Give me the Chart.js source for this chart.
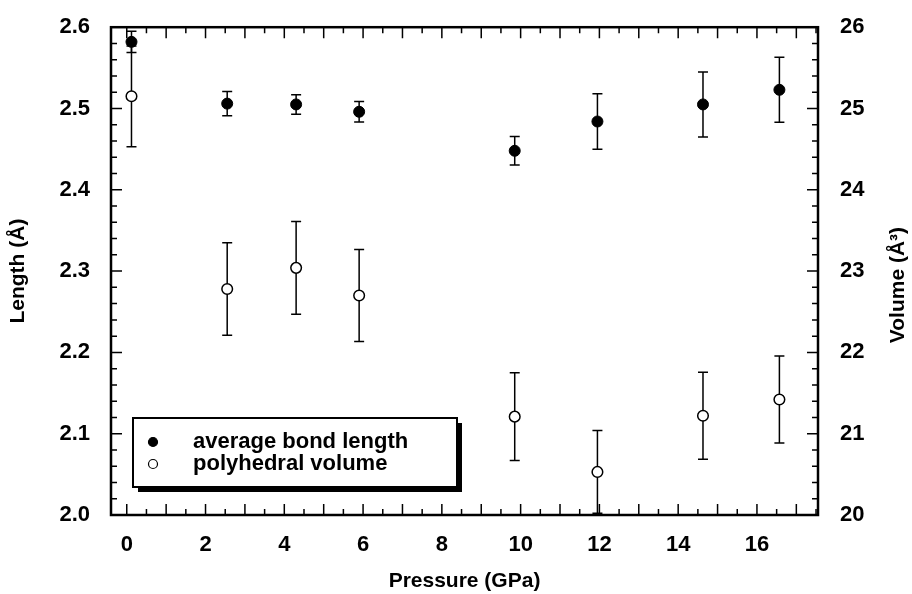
<!DOCTYPE html>
<html>
<head>
<meta charset="utf-8">
<script src="https://cdn.jsdelivr.net/npm/chart.js@4.4.0/dist/chart.umd.min.js"></script>
<style>
  body { margin: 0; background: #fff; }
  #wrap { width: 912px; height: 594px; }
</style>
</head>
<body>
<div id="wrap"><canvas id="bondChart"></canvas></div>
<script>
// values
const pressure = [0.12, 2.55, 4.3, 5.9, 9.85, 11.95, 14.63, 16.57];
const bondLength = [2.582, 2.506, 2.505, 2.496, 2.448, 2.484, 2.505, 2.523];
const bondLengthErr = [0.013, 0.015, 0.012, 0.0125, 0.0175, 0.034, 0.04, 0.04];
const polyVolume = [25.15, 22.78, 23.04, 22.70, 21.21, 20.53, 21.22, 21.42];
const polyVolumeErr = [0.62, 0.57, 0.57, 0.565, 0.54, 0.51, 0.535, 0.535];

const pressureTicks = [0, 2, 4, 6, 8, 10, 12, 14, 16];
const lengthTicks = [2.0, 2.1, 2.2, 2.3, 2.4, 2.5, 2.6];
const volumeTicks = [20, 21, 22, 23, 24, 25, 26];

const FONT = "'Liberation Sans', Arial, Helvetica, sans-serif";
const tickFont = { family: FONT, size: 22, weight: 'bold' };
const titleFont = { family: FONT, size: 21, weight: 'bold' };

// error bars drawn behind the markers, through the chart's own scales
const errorBars = {
  id: 'errorBars',
  beforeDatasetsDraw(chart) {
    const ctx = chart.ctx;
    ctx.save();
    ctx.strokeStyle = '#000';
    ctx.lineWidth = 1.5;
    chart.data.datasets.forEach((ds, i) => {
      const meta = chart.getDatasetMeta(i);
      const ys = chart.scales[ds.yAxisID];
      meta.data.forEach((pt, j) => {
        const v = ds.data[j].y, e = ds.errors[j];
        const top = ys.getPixelForValue(v + e);
        const bot = ys.getPixelForValue(v - e);
        ctx.beginPath();
        ctx.moveTo(pt.x, top); ctx.lineTo(pt.x, bot);
        ctx.moveTo(pt.x - 5, top); ctx.lineTo(pt.x + 5, top);
        ctx.moveTo(pt.x - 5, bot); ctx.lineTo(pt.x + 5, bot);
        ctx.stroke();
      });
    });
    ctx.restore();
  }
};

// boxed frame with inward tick marks on all four sides
const frameTicks = {
  id: 'frameTicks',
  afterDraw(chart) {
    const { ctx, chartArea: a, scales } = chart;
    ctx.save();
    ctx.strokeStyle = '#000';
    ctx.lineWidth = 1.5;
    ctx.beginPath();
    const x = scales.x;
    for (let k = Math.ceil(x.min * 2); k <= x.max * 2; k++) {
      const px = x.getPixelForValue(k / 2);
      const len = k % 2 === 0 ? 11 : 6;
      ctx.moveTo(px, a.bottom); ctx.lineTo(px, a.bottom - len);
      ctx.moveTo(px, a.top); ctx.lineTo(px, a.top + len);
    }
    const y = scales.y;
    for (let k = Math.round(y.min * 50); k <= Math.round(y.max * 50); k++) {
      const py = y.getPixelForValue(k / 50);
      const len = k % 5 === 0 ? 11 : 6;
      ctx.moveTo(a.left, py); ctx.lineTo(a.left + len, py);
    }
    const y2 = scales.y2;
    for (let k = Math.round(y2.min * 5); k <= Math.round(y2.max * 5); k++) {
      const py = y2.getPixelForValue(k / 5);
      const len = k % 5 === 0 ? 11 : 6;
      ctx.moveTo(a.right, py); ctx.lineTo(a.right - len, py);
    }
    ctx.stroke();
    ctx.lineWidth = 2.5;
    ctx.strokeRect(a.left, a.top, a.right - a.left, a.bottom - a.top);

    // right axis title, read bottom-to-top like the left one
    const t = y2.options.title;
    ctx.translate(y2.right - 14, (a.top + a.bottom) / 2 + 14);
    ctx.rotate(-Math.PI / 2);
    ctx.font = `bold ${titleFont.size}px ${FONT}`;
    ctx.fillStyle = '#000';
    ctx.textAlign = 'center';
    ctx.textBaseline = 'middle';
    ctx.fillText(t.text, 0, 0);
    ctx.restore();
  }
};

// boxed legend with drop shadow, lower left of the plot
const boxLegend = {
  id: 'boxLegend',
  afterDraw(chart) {
    const { ctx, chartArea: a } = chart;
    const bx = a.left + 22, by = a.bottom - 97, bw = 324, bh = 69;
    ctx.save();
    ctx.fillStyle = '#000';
    ctx.fillRect(bx + 5, by + 5, bw, bh);
    ctx.fillStyle = '#fff';
    ctx.fillRect(bx, by, bw, bh);
    ctx.strokeStyle = '#000';
    ctx.lineWidth = 2;
    ctx.strokeRect(bx, by, bw, bh);
    ctx.font = `bold 22px ${FONT}`;
    ctx.textBaseline = 'middle';
    chart.data.datasets.forEach((ds, i) => {
      const cy = by + 24 + i * 22;
      ctx.beginPath();
      ctx.arc(bx + 20, cy, 4.5, 0, Math.PI * 2);
      ctx.fillStyle = ds.backgroundColor;
      ctx.fill();
      ctx.lineWidth = 1.2;
      ctx.strokeStyle = '#000';
      ctx.stroke();
      ctx.fillStyle = '#000';
      ctx.fillText(ds.label, bx + 60, cy);
    });
    ctx.restore();
  }
};

const toPoints = (ys) => pressure.map((p, i) => ({ x: p, y: ys[i] }));

new Chart(document.getElementById('bondChart').getContext('2d'), {
  type: 'scatter',
  data: {
    datasets: [
      {
        label: 'average bond length',
        data: toPoints(bondLength),
        errors: bondLengthErr,
        yAxisID: 'y',
        backgroundColor: '#000',
        borderColor: '#000',
        pointRadius: 5.5,
        borderWidth: 1
      },
      {
        label: 'polyhedral volume',
        data: toPoints(polyVolume),
        errors: polyVolumeErr,
        yAxisID: 'y2',
        backgroundColor: '#fff',
        borderColor: '#000',
        pointRadius: 5.3,
        borderWidth: 1.5
      }
    ]
  },
  options: {
    responsive: true,
    maintainAspectRatio: false,
    animation: false,
    layout: { padding: { top: 17 } },
    plugins: {
      legend: { display: false },
      tooltip: { enabled: false }
    },
    scales: {
      x: {
        type: 'linear',
        position: 'bottom',
        min: -0.4,
        max: 17.55,
        afterBuildTicks: s => { s.ticks = pressureTicks.map(v => ({ value: v })); },
        afterFit: s => { s.height = 79; },
        grid: { display: false },
        border: { display: false },
        ticks: { font: tickFont, color: '#000', padding: 9, maxRotation: 0 },
        title: { display: true, text: 'Pressure (GPa)', font: titleFont, color: '#000', padding: { top: 0, bottom: 0 } }
      },
      y: {
        type: 'linear',
        position: 'left',
        min: 2.0,
        max: 2.6,
        afterBuildTicks: s => { s.ticks = lengthTicks.map(v => ({ value: v })); },
        afterFit: s => { s.width = 111; },
        grid: { display: false },
        border: { display: false },
        ticks: { font: tickFont, color: '#000', padding: 13, callback: v => v.toFixed(1) },
        title: { display: true, text: 'Length (Å)', font: titleFont, color: '#000', padding: { top: 6, bottom: 0 } }
      },
      y2: {
        type: 'linear',
        position: 'right',
        min: 20,
        max: 26,
        afterBuildTicks: s => { s.ticks = volumeTicks.map(v => ({ value: v })); },
        afterFit: s => { s.width = 94; },
        grid: { display: false },
        border: { display: false },
        ticks: { font: tickFont, color: '#000', padding: 14 },
        title: { display: false, text: 'Volume (Å³)', font: titleFont, color: '#000' }
      }
    }
  },
  plugins: [errorBars, frameTicks, boxLegend]
});
</script>
</body>
</html>
